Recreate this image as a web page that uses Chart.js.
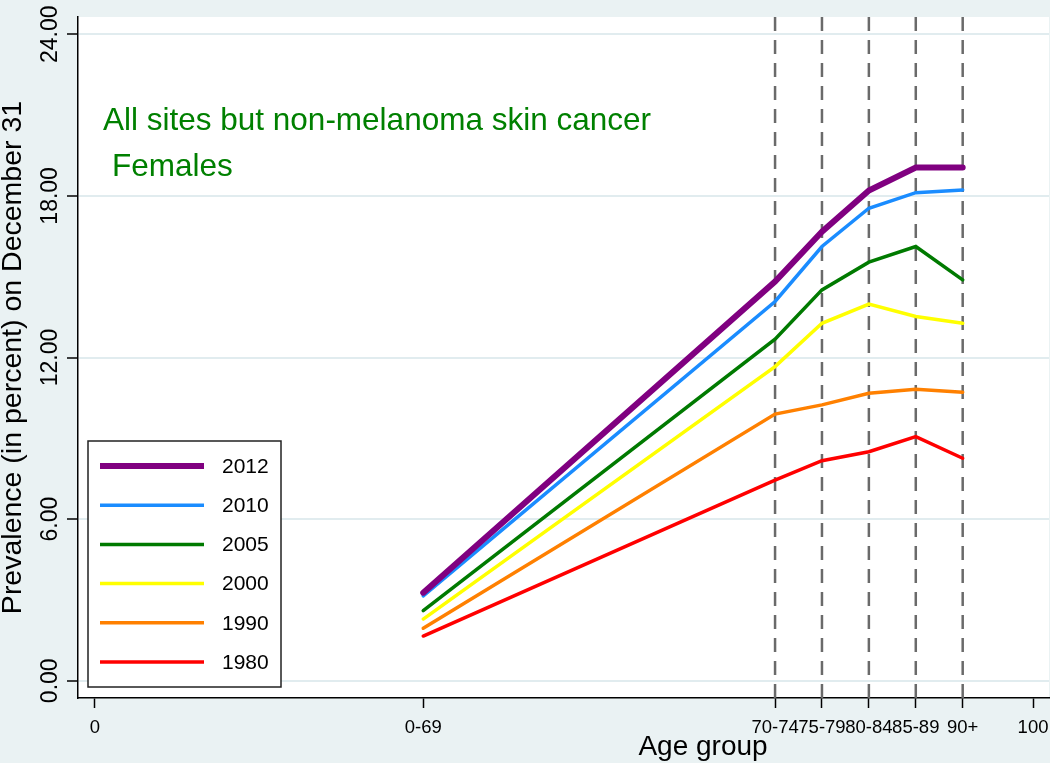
<!DOCTYPE html>
<html>
<head>
<meta charset="utf-8">
<title>Prevalence by age group, females</title>
<script src="https://cdn.jsdelivr.net/npm/chart.js@4"></script>
<style>
  html, body { margin: 0; padding: 0; background: #eaf2f3; }
  canvas { display: block; }
</style>
</head>
<body>
<canvas id="prev-chart" width="1050" height="763"></canvas>
<script>
// Prevalence (percent) on December 31 by age group, females,
// all sites but non-melanoma skin cancer.

const ageLabels = ["0-69", "70-74", "75-79", "80-84", "85-89", "90+"];
const agePos = [35, 72.5, 77.5, 82.5, 87.5, 92.5];
const xTickVals = [0, 35, 72.5, 77.5, 82.5, 87.5, 92.5, 100];
const xTickLabels = ["0", "0-69", "70-74", "75-79", "80-84", "85-89", "90+", "100"];
const yTickVals = [0, 6, 12, 18, 24];

const years = ["2012", "2010", "2005", "2000", "1990", "1980"];
const prev2012 = [3.27, 14.82, 16.67, 18.20, 19.05, 19.05];
const prev2010 = [3.15, 14.08, 16.12, 17.54, 18.12, 18.22];
const prev2005 = [2.60, 12.68, 14.51, 15.54, 16.12, 14.88];
const prev2000 = [2.29, 11.66, 13.27, 13.98, 13.52, 13.27];
const prev1990 = [1.95, 9.90, 10.24, 10.67, 10.82, 10.71];
const prev1980 = [1.66, 7.45, 8.17, 8.50, 9.06, 8.26];

const seriesValues = [prev2012, prev2010, prev2005, prev2000, prev1990, prev1980];
const seriesColors = ["#800080", "#1a8cff", "#007a00", "#ffff00", "#ff8000", "#ff0000"];
const seriesWidths = [6, 3.5, 3.5, 3.5, 3.5, 3.5];

const FONT = '"Liberation Sans", Arial, sans-serif';

// background: grey page, white plot region
const backdrop = {
  id: "backdrop",
  beforeDraw(chart) {
    const { ctx, chartArea: a } = chart;
    ctx.save();
    ctx.fillStyle = "#eaf2f3";
    ctx.fillRect(0, 0, chart.width, chart.height);
    ctx.fillStyle = "#ffffff";
    ctx.fillRect(a.left, a.top, a.right - a.left, a.bottom - a.top);
    ctx.restore();
  }
};

// dashed verticals at each older age group
const ageLines = {
  id: "ageLines",
  beforeDatasetsDraw(chart) {
    const { ctx, chartArea: a, scales: { x } } = chart;
    ctx.save();
    ctx.strokeStyle = "#6a6a6a";
    ctx.lineWidth = 2.5;
    ctx.setLineDash([14, 9]);
    agePos.slice(1).forEach(v => {
      const px = x.getPixelForValue(v);
      ctx.beginPath();
      ctx.moveTo(px, a.top);
      ctx.lineTo(px, a.bottom);
      ctx.stroke();
    });
    ctx.restore();
  }
};

// boxed legend in the lower left, annotation text, x title
const extras = {
  id: "extras",
  afterDraw(chart) {
    const { ctx } = chart;
    ctx.save();

    // legend
    const box = { left: 88, top: 441, width: 193, height: 246 };
    ctx.fillStyle = "#ffffff";
    ctx.fillRect(box.left, box.top, box.width, box.height);
    ctx.strokeStyle = "#222";
    ctx.lineWidth = 1.5;
    ctx.strokeRect(box.left, box.top, box.width, box.height);
    ctx.font = "21px " + FONT;
    ctx.textBaseline = "middle";
    ctx.textAlign = "left";
    chart.data.datasets.forEach((ds, i) => {
      const y = 466 + i * 39.2;
      ctx.strokeStyle = ds.borderColor;
      ctx.lineWidth = ds.borderWidth;
      ctx.lineCap = "butt";
      ctx.beginPath();
      ctx.moveTo(100, y);
      ctx.lineTo(204, y);
      ctx.stroke();
      ctx.fillStyle = "#000";
      ctx.fillText(ds.label, 222, y + 1);
    });

    // annotation
    ctx.fillStyle = "#008000";
    ctx.font = "31.5px " + FONT;
    ctx.textBaseline = "alphabetic";
    ctx.fillText("All sites but non-melanoma skin cancer", 103, 130);
    ctx.fillText("Females", 112, 176);

    // x axis title
    ctx.fillStyle = "#000";
    ctx.font = "28px " + FONT;
    ctx.textAlign = "center";
    ctx.fillText("Age group", 703, 755);
    ctx.restore();
  }
};

const datasets = years.map((yr, i) => ({
  label: yr,
  data: agePos.map((x, j) => ({ x: x, y: seriesValues[i][j] })),
  borderColor: seriesColors[i],
  backgroundColor: seriesColors[i],
  borderWidth: seriesWidths[i],
  borderCapStyle: "round",
  fill: false,
  tension: 0,
  pointRadius: 0
}));

new Chart(document.getElementById("prev-chart"), {
  type: "line",
  data: { datasets: datasets },
  options: {
    responsive: false,
    animation: false,
    devicePixelRatio: 1,
    layout: { padding: { top: 17, right: 1, left: 0, bottom: 0 } },
    plugins: {
      legend: { display: false },
      tooltip: { enabled: false }
    },
    scales: {
      x: {
        type: "linear",
        min: -1.8,
        max: 101.7,
        afterBuildTicks: axis => { axis.ticks = xTickVals.map(v => ({ value: v })); },
        afterFit: axis => {
          axis.height = 65;
          axis.paddingLeft = 0;
          axis.paddingRight = 0;
        },
        grid: {
          drawOnChartArea: false,
          drawTicks: true,
          tickLength: 10,
          tickColor: "#000",
          tickWidth: 1.5
        },
        border: { display: true, color: "#000", width: 1.5 },
        ticks: {
          autoSkip: false,
          maxRotation: 0,
          minRotation: 0,
          padding: 9,
          color: "#000",
          font: { family: FONT, size: 18.5 },
          callback: value => {
            const k = xTickVals.indexOf(value);
            return k >= 0 ? xTickLabels[k] : "";
          }
        },
        title: { display: false }
      },
      y: {
        type: "linear",
        min: -0.64,
        max: 24.64,
        afterBuildTicks: axis => { axis.ticks = yTickVals.map(v => ({ value: v })); },
        afterFit: axis => {
          axis.width = 78;
          axis.paddingTop = 0;
          axis.paddingBottom = 0;
        },
        grid: {
          color: "#e1ecef",
          lineWidth: 2,
          drawTicks: true,
          tickLength: 11,
          tickColor: "#000",
          tickWidth: 1.5
        },
        border: { display: true, color: "#000", width: 1.5 },
        ticks: {
          minRotation: 90,
          maxRotation: 90,
          crossAlign: "center",
          padding: -12.5,
          color: "#000",
          font: { family: FONT, size: 23 },
          callback: value => value.toFixed(2)
        },
        title: {
          display: true,
          text: "Prevalence (in percent) on December 31",
          color: "#000",
          font: { family: FONT, size: 28.5 },
          padding: { top: -3.5, bottom: 0 }
        }
      }
    }
  },
  plugins: [backdrop, ageLines, extras]
});
</script>
</body>
</html>
